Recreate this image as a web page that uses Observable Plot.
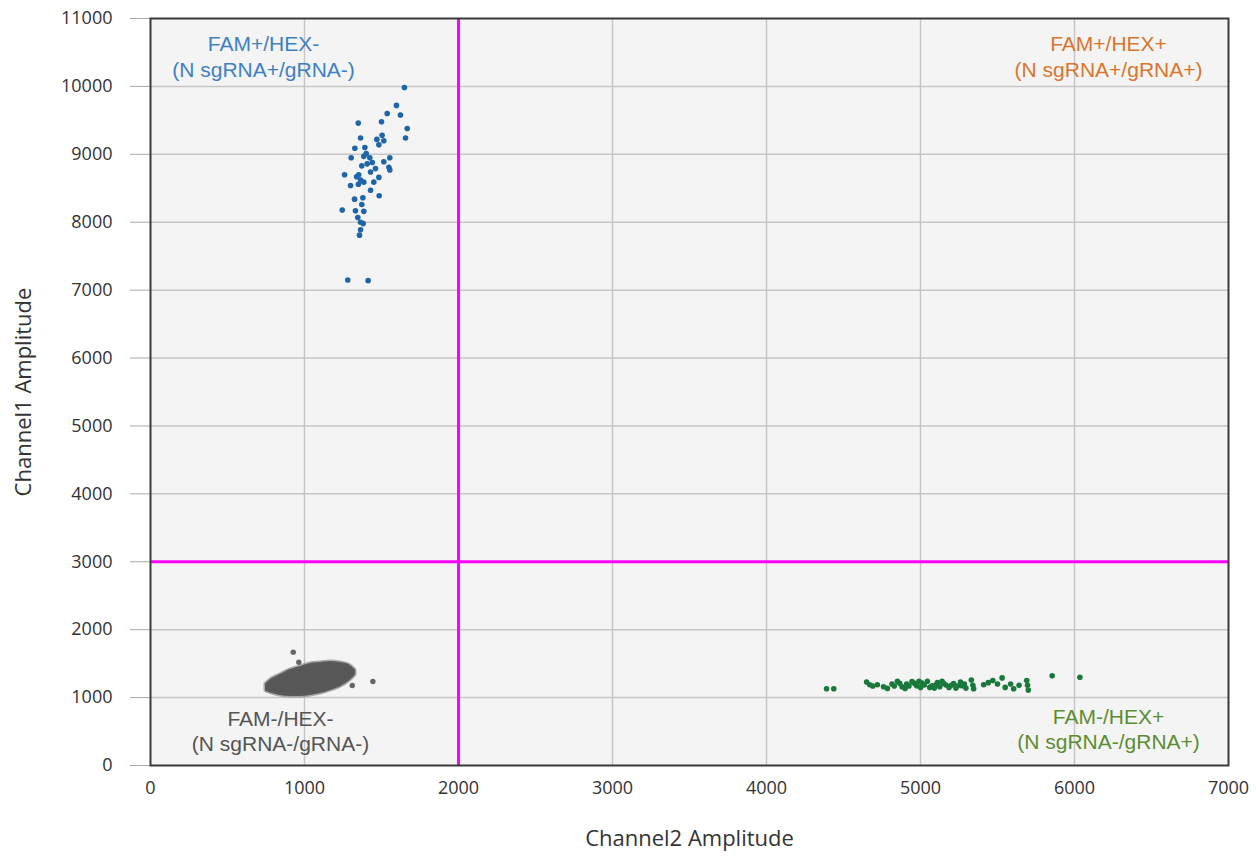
<!DOCTYPE html>
<html>
<head>
<meta charset="utf-8">
<script src="https://cdn.jsdelivr.net/npm/d3@7"></script>
<script src="https://cdn.jsdelivr.net/npm/@observablehq/plot@0.6"></script>
<style>
  html, body { margin: 0; padding: 0; background: #ffffff; }
  #chart { width: 1256px; height: 858px; }
</style>
</head>
<body>
<div id="chart"></div>
<script>
// Axis ticks
const xTicks = [0, 1000, 2000, 3000, 4000, 5000, 6000, 7000];
const yTicks = [0, 1000, 2000, 3000, 4000, 5000, 6000, 7000, 8000, 9000, 10000, 11000];

// Thresholds
const thresholdX = 2000;
const thresholdY = 3000;

// FAM+/HEX- droplets (blue): [Channel2, Channel1]
const bluePoints = [
  [1649, 9985], [1597, 9720], [1537, 9600], [1623, 9580], [1349, 9460], [1500, 9480],
  [1667, 9380], [1656, 9240], [1364, 9240], [1504, 9280], [1515, 9200], [1483, 9140],
  [1327, 9090], [1392, 9100], [1303, 8950], [1385, 8970], [1424, 8950], [1554, 8950],
  [1515, 8890], [1548, 8810], [1554, 8770], [1407, 8860], [1461, 8790], [1429, 8740],
  [1260, 8700], [1338, 8670], [1364, 8620], [1483, 8660], [1450, 8590], [1299, 8540],
  [1385, 8590], [1429, 8470], [1485, 8390], [1325, 8340], [1379, 8360], [1245, 8180],
  [1331, 8170], [1385, 8160], [1346, 8070], [1364, 8000], [1381, 7980], [1364, 7890],
  [1357, 7810], [1281, 7150], [1413, 7140], [1352, 8700], [1372, 8830], [1401, 9010],
  [1440, 8880], [1470, 9220], [1350, 8560], [1372, 8260]
];

// FAM-/HEX- droplet cloud (gray): envelope
const blobX    = [753, 792, 844, 909, 974, 1039, 1104, 1169, 1234, 1286, 1325];
const blobLow  = [1105, 1075, 1046, 1031, 1031, 1046, 1075, 1119, 1178, 1252, 1340];
const blobHigh = [1193, 1267, 1325, 1399, 1443, 1487, 1502, 1517, 1502, 1473, 1399];
// FAM-/HEX- outliers
const grayPoints = [[927, 1669], [963, 1521], [1310, 1178], [1444, 1237]];

// FAM-/HEX+ droplets (green)
const greenPoints = [
  [4390, 1130], [4437, 1130], [4650, 1230], [4670, 1190], [4690, 1170], [4785, 1135],
  [4815, 1200], [4850, 1240], [4880, 1160], [4910, 1200], [4945, 1235], [4975, 1175],
  [5000, 1150], [5010, 1215], [5045, 1240], [5075, 1175], [5090, 1140], [5110, 1220],
  [5140, 1240], [5165, 1185], [5185, 1150], [5215, 1205], [5240, 1170], [5260, 1230],
  [5285, 1200], [5295, 1140], [5330, 1260], [5340, 1180], [5345, 1130], [5410, 1190],
  [5440, 1220], [5470, 1250], [5500, 1200], [5530, 1290], [5550, 1150], [5585, 1200],
  [5605, 1130], [5640, 1180], [5690, 1250], [5695, 1180], [5700, 1110], [5855, 1320],
  [6035, 1300], [4830, 1170], [4865, 1210], [4900, 1135], [4925, 1170], [4960, 1210],
  [4990, 1240], [5025, 1185], [5060, 1150], [5100, 1190], [5125, 1160], [5150, 1210],
  [5200, 1180], [5230, 1140], [5270, 1175], [4760, 1160], [4720, 1190]
];

// Quadrant labels
const quadLabels = [
  {x: 734,  y: 10449, text: "FAM+/HEX-\n(N sgRNA+/gRNA-)", color: "#3f80c2"},
  {x: 6221, y: 10449, text: "FAM+/HEX+\n(N sgRNA+/gRNA+)", color: "#d8762e"},
  {x: 844,  y: 515,   text: "FAM-/HEX-\n(N sgRNA-/gRNA-)", color: "#555555"},
  {x: 6221, y: 545,   text: "FAM-/HEX+\n(N sgRNA-/gRNA+)", color: "#5b8d33"}
];

const blob = blobX.map((x, i) => ({x, y1: blobLow[i], y2: blobHigh[i]}));

const chart = Plot.plot({
  width: 1256,
  height: 858,
  marginLeft: 150,
  marginRight: 28,
  marginTop: 18,
  marginBottom: 93,
  style: {fontFamily: "'Open Sans', sans-serif", fontSize: "18px", color: "#333", background: "#ffffff"},
  x: {domain: [0, 7000]},
  y: {domain: [0, 11000]},
  marks: [
    Plot.frame({fill: "#f4f4f4", stroke: "none"}),
    Plot.gridX(xTicks.slice(1, -1), {stroke: "#c6c6c6", strokeOpacity: 1, strokeWidth: 1.5}),
    Plot.gridY(yTicks.slice(1, -1), {stroke: "#c6c6c6", strokeOpacity: 1, strokeWidth: 1.5}),
    Plot.axisY(yTicks, {tickSize: 20, tickPadding: 18, stroke: "#aaaaaa", fill: "#333",
      tickFormat: d => String(d), fontSize: 18, label: null}),
    Plot.axisY({label: "Channel1 Amplitude", labelArrow: "none", labelAnchor: "center",
      labelOffset: 135, ticks: [], tickSize: 0, fill: "#333", fontSize: 22,
      style: {letterSpacing: "0.5px"}}),
    Plot.axisX(xTicks, {tickSize: 0, tickPadding: 16, fill: "#333",
      tickFormat: d => String(d), fontSize: 18, label: null}),
    Plot.axisX({label: "Channel2 Amplitude", labelArrow: "none", labelAnchor: "center",
      labelOffset: 80, ticks: [], tickSize: 0, fill: "#333", fontSize: 22,
      style: {letterSpacing: "0.5px"}}),
    Plot.ruleX([thresholdX], {stroke: "#ff00ff", strokeWidth: 3}),
    Plot.ruleY([thresholdY], {stroke: "#ff00ff", strokeWidth: 3}),
    Plot.areaY(blob, {x: "x", y1: "y1", y2: "y2", fill: "#5a5a5a", stroke: "#7a7a7a",
      strokeOpacity: 0.6, strokeWidth: 5, strokeLinejoin: "round", curve: "catmull-rom"}),
    Plot.areaY(blob, {x: "x", y1: "y1", y2: "y2", fill: "#575757", stroke: "#5a5a5a",
      strokeWidth: 2, strokeLinejoin: "round", curve: "catmull-rom"}),
    Plot.dot(grayPoints, {x: d => d[0], y: d => d[1], r: 2.7, fill: "#666666", stroke: "none"}),
    Plot.dot(bluePoints, {x: d => d[0], y: d => d[1], r: 2.8, fill: "#1d65a6", stroke: "none"}),
    Plot.dot(greenPoints, {x: d => d[0], y: d => d[1], r: 2.8, fill: "#18793a", stroke: "none"}),
    Plot.text(quadLabels, {x: "x", y: "y", text: "text", fill: "color", fontSize: 21,
      lineHeight: 1.2, fontFamily: "'Liberation Sans', Arial, sans-serif", textAnchor: "middle"}),
    Plot.frame({stroke: "#3a3a3a", strokeWidth: 2, fill: "none"})
  ]
});

document.getElementById("chart").appendChild(chart);
</script>
</body>
</html>
